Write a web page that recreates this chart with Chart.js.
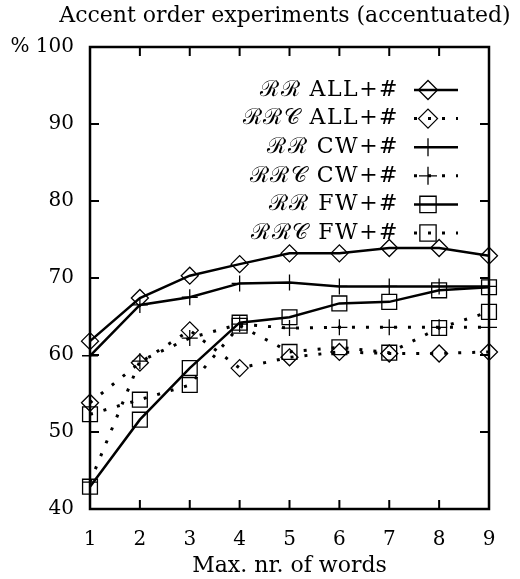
<!DOCTYPE html>
<html lang="en">
<head>
  <meta charset="UTF-8">
  <title>Accent order experiments (accentuated)</title>
  <script src="https://cdn.jsdelivr.net/npm/chart.js"></script>
  <style>
    body { margin: 0; background: #fff; }
    canvas { display: block; }
  </style>
</head>
<body>
  <canvas id="accentChart" width="520" height="579"></canvas>
  <script>
    // values
    const words = ['1', '2', '3', '4', '5', '6', '7', '8', '9'];
    const yTicks = [40, 50, 60, 70, 80, 90, 100];
    const rrAll  = [61.8, 67.4, 70.3, 71.8, 73.2, 73.2, 73.9, 73.9, 72.9];
    const rrcAll = [53.8, 59.0, 63.2, 58.3, 59.7, 60.4, 60.2, 60.2, 60.4];
    const rrCw   = [59.9, 66.5, 67.5, 69.3, 69.4, 68.9, 68.9, 68.9, 68.9];
    const rrcCw  = [43.5, 59.2, 62.2, 64.0, 63.5, 63.6, 63.6, 63.6, 63.6];
    const rrFw   = [42.9, 51.6, 58.3, 64.2, 64.9, 66.7, 66.9, 68.4, 68.8];
    const rrcFw  = [52.3, 54.2, 56.1, 63.8, 60.4, 61.0, 60.3, 63.5, 65.6];
    const seriesNames = ['ℛℛ ALL+#', 'ℛℛ𝒞 ALL+#', 'ℛℛ CW+#', 'ℛℛ𝒞 CW+#', 'ℛℛ FW+#', 'ℛℛ𝒞 FW+#'];

    const FONT = "'DejaVu Serif', serif";
    const DOTS = [3, 11];
    const markerSize = { rectRot: 8.5, rect: 10.5, cross: 8 };

    function series(label, data, marker, dotted) {
      return {
        label: label,
        data: data,
        borderColor: '#000',
        borderWidth: dotted ? 3 : 2.5,
        borderDash: dotted ? DOTS : [],
        borderCapStyle: 'butt',
        tension: 0,
        fill: false,
        pointStyle: marker,
        pointRadius: markerSize[marker],
        pointHoverRadius: markerSize[marker],
        pointBorderWidth: 1.3,
        pointBorderColor: '#000',
        pointBackgroundColor: 'rgba(0,0,0,0)'
      };
    }

    // frame, inward ticks, title and the legend box
    const decorations = {
      id: 'decorations',
      afterDraw(chart) {
        const ctx = chart.ctx;
        const a = chart.chartArea;
        const xs = chart.scales.x, ys = chart.scales.y;
        ctx.save();
        ctx.strokeStyle = '#000';
        ctx.lineWidth = 2;
        ctx.beginPath();
        words.forEach((w, i) => {
          const px = xs.getPixelForValue(i);
          ctx.moveTo(px, a.bottom); ctx.lineTo(px, a.bottom - 9);
          ctx.moveTo(px, a.top); ctx.lineTo(px, a.top + 9);
        });
        yTicks.forEach(v => {
          const py = ys.getPixelForValue(v);
          ctx.moveTo(a.left, py); ctx.lineTo(a.left + 9, py);
          ctx.moveTo(a.right, py); ctx.lineTo(a.right - 9, py);
        });
        ctx.stroke();
        ctx.lineWidth = 2.5;
        ctx.strokeRect(a.left, a.top, a.right - a.left, a.bottom - a.top);

        ctx.fillStyle = '#000';
        ctx.font = '22px ' + FONT;
        ctx.textAlign = 'center';
        ctx.textBaseline = 'middle';
        ctx.fillText('Accent order experiments (accentuated)', 285, 16);

        // legend
        ctx.font = '22px ' + FONT;
        ctx.letterSpacing = '1.5px';
        ctx.textAlign = 'right';
        chart.data.datasets.forEach((ds, i) => {
          const y = 90 + i * 28.6;
          ctx.fillText(ds.label, 399, y);
          ctx.beginPath();
          ctx.lineWidth = ds.borderWidth;
          ctx.setLineDash(ds.borderDash);
          ctx.lineCap = 'butt';
          ctx.moveTo(414, y); ctx.lineTo(458, y);
          ctx.stroke();
          ctx.setLineDash([]);
          ctx.lineWidth = 1.3;
          const r = ds.pointRadius + 1;
          ctx.beginPath();
          if (ds.pointStyle === 'rectRot') {
            ctx.moveTo(428 - r, y); ctx.lineTo(428, y - r); ctx.lineTo(428 + r, y); ctx.lineTo(428, y + r); ctx.closePath();
          } else if (ds.pointStyle === 'rect') {
            const s = r * Math.SQRT1_2;
            ctx.rect(428 - s, y - s, 2 * s, 2 * s);
          } else {
            ctx.moveTo(428 - r, y); ctx.lineTo(428 + r, y);
            ctx.moveTo(428, y - r); ctx.lineTo(428, y + r);
          }
          ctx.stroke();
        });
        ctx.restore();
      }
    };

    new Chart(document.getElementById('accentChart'), {
      type: 'line',
      data: {
        labels: words,
        datasets: [
          series(seriesNames[0], rrAll, 'rectRot', false),
          series(seriesNames[1], rrcAll, 'rectRot', true),
          series(seriesNames[2], rrCw, 'cross', false),
          series(seriesNames[3], rrcCw, 'cross', true),
          series(seriesNames[4], rrFw, 'rect', false),
          series(seriesNames[5], rrcFw, 'rect', true)
        ]
      },
      options: {
        responsive: false,
        animation: false,
        layout: { padding: { top: 47, right: 31, left: 0, bottom: 0 } },
        plugins: {
          legend: { display: false },
          title: { display: false },
          tooltip: { enabled: false }
        },
        scales: {
          x: {
            offset: false,
            grid: { display: false, drawTicks: false },
            border: { display: false },
            ticks: { color: '#000', font: { family: FONT, size: 20 }, padding: 19, maxRotation: 0 },
            title: { display: true, text: 'Max. nr. of words', color: '#000', font: { family: FONT, size: 22 }, padding: { top: 0, bottom: 0 } },
            afterFit(scale) { scale.height = 70; }
          },
          y: {
            min: 40,
            max: 100,
            grid: { display: false, drawTicks: false },
            border: { display: false },
            ticks: {
              stepSize: 10,
              color: '#000',
              font: { family: FONT, size: 20 },
              padding: 16,
              callback: v => v === 100 ? '% 100' : v
            },
            afterFit(scale) { scale.width = 90; }
          }
        }
      },
      plugins: [decorations]
    });
  </script>
</body>
</html>
